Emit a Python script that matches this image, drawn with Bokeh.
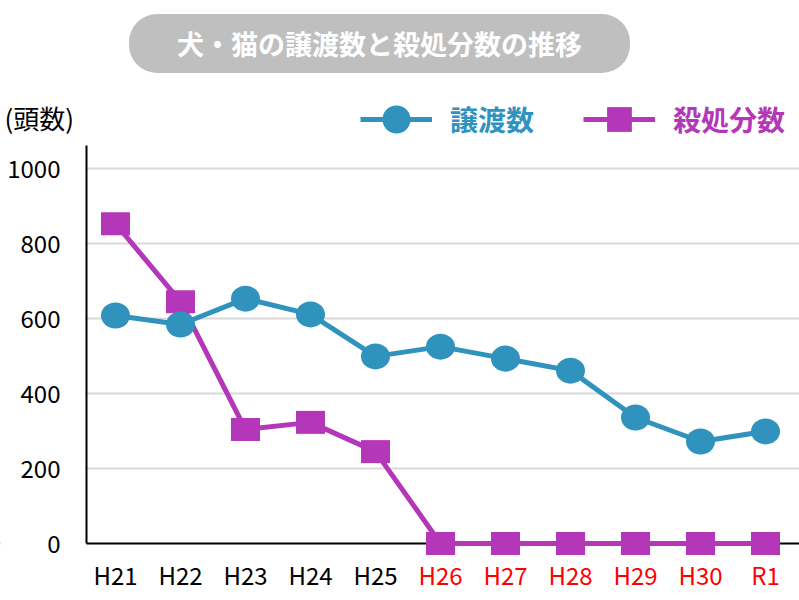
import math
from bokeh.plotting import figure
from bokeh.models import (ColumnDataSource, FixedTicker, LinearAxis, Span, Label,
                          Legend, LegendItem, Range1d, BoxAnnotation)
from bokeh.embed import file_html
from bokeh.resources import INLINE

# ---- data ----
categories = ["H21", "H22", "H23", "H24", "H25", "H26", "H27", "H28", "H29", "H30", "R1"]
adoptions = [608, 584, 653, 611, 499, 525, 493, 461, 336, 272, 299]
euthanasia = [853, 645, 304, 323, 245, 0, 0, 0, 0, 0, 0]
y_ticks = [0, 200, 400, 600, 800, 1000]
black_label_idx = [0, 1, 2, 3, 4]
red_label_idx = [5, 6, 7, 8, 9, 10]
title_text = "犬・猫の譲渡数と殺処分数の推移"
unit_text = "(頭数)"
series_names = ["譲渡数", "殺処分数"]

FONT = "Noto Sans CJK JP"
BLUE = "#3093be"
PURPLE = "#b537b9"
W, H = 799, 600
AXIS_X = -0.446          # position of the value axis along x (data units)
Y_TOP = 1061             # top of the value axis

src = ColumnDataSource(dict(x=list(range(len(categories))), a=adoptions, e=euthanasia))

p = figure(width=W, height=H, output_backend="svg", toolbar_location=None,
           x_range=Range1d(-1.769, 10.523), y_range=Range1d(-152, 1448),
           x_axis_location=None, min_border=0)
p.outline_line_color = None
p.background_fill_color = "white"
for g in p.grid:
    if g.dimension == 0:
        g.visible = False
p.ygrid.ticker = FixedTicker(ticks=y_ticks[1:])
p.ygrid.grid_line_color = "#d9d9d9"
p.ygrid.grid_line_width = 2

ya = p.yaxis[0]
ya.fixed_location = AXIS_X
ya.ticker = FixedTicker(ticks=y_ticks)
ya.bounds = (0, Y_TOP)
ya.axis_line_width = 2
ya.axis_line_color = "black"
ya.major_tick_line_color = None
ya.minor_tick_line_color = None
ya.major_label_text_font = FONT
ya.major_label_text_font_size = "24px"
ya.major_label_text_color = "black"
ya.major_label_standoff = 20

for idxs, color in ((black_label_idx, "black"), (red_label_idx, "#ff0000")):
    ax = LinearAxis(ticker=FixedTicker(ticks=idxs),
                    major_label_overrides={i: categories[i] for i in idxs},
                    fixed_location=0,
                    axis_line_color=None, major_tick_line_color=None,
                    minor_tick_line_color=None,
                    major_label_text_color=color,
                    major_label_text_font=FONT,
                    major_label_text_font_size="24px",
                    major_label_standoff=7)
    p.add_layout(ax, "below")

zero_line = Span(location=0, dimension="width", line_color="black", line_width=2, level="underlay")
p.add_layout(zero_line)
# white mask left of the value axis so grid / zero line start at the axis
mask = BoxAnnotation(left=-10, left_units="screen", right=86, right_units="screen",
                     fill_color="white", fill_alpha=1, line_color=None, level="underlay")
p.add_layout(mask)

# euthanasia series
e_line = p.line("x", "e", source=src, line_color=PURPLE, line_width=5)
p.rect("x", "e", source=src, width=29, height=23, width_units="screen", height_units="screen",
       fill_color=PURPLE, line_color=None)
# adoption series
a_line = p.line("x", "a", source=src, line_color=BLUE, line_width=5)
p.ellipse("x", "a", source=src, width=29, height=26, width_units="screen", height_units="screen",
          fill_color=BLUE, line_color=None)

# legend-only marker renderers (no visible points)
a_dummy = p.scatter([math.nan], [math.nan], marker="circle", size=28, fill_color=BLUE, line_color=None)
e_dummy = p.scatter([math.nan], [math.nan], marker="square", size=25, fill_color=PURPLE, line_color=None)

def make_legend(label, renderers, color, loc, gh):
    return Legend(items=[LegendItem(label=label, renderers=renderers)],
                  location=loc, orientation="horizontal",
                  glyph_width=72, glyph_height=gh, label_standoff=18,
                  label_text_font=FONT, label_text_font_size="28px",
                  label_text_font_style="bold", label_text_color=color,
                  padding=0, margin=0, border_line_color=None,
                  background_fill_alpha=0)

p.add_layout(make_legend(series_names[0], [a_line, a_dummy], BLUE, (360, 446), 70))
p.add_layout(make_legend(series_names[1], [e_line, e_dummy], PURPLE, (583, 450), 62))

title = Label(x=379, y=557, x_units="screen", y_units="screen", text=title_text,
              text_align="center", text_baseline="middle", text_color="white",
              text_font=FONT, text_font_size="27px", text_font_style="bold",
              background_fill_color="#bfbfbf", border_radius=28, padding=(48, 10))
p.add_layout(title)

unit = Label(x=4, y=483, x_units="screen", y_units="screen", text=unit_text,
             text_align="left", text_baseline="middle", text_color="black",
             text_font=FONT, text_font_size="26px")
p.add_layout(unit)

open("out.html", "w").write(file_html(p, INLINE))
